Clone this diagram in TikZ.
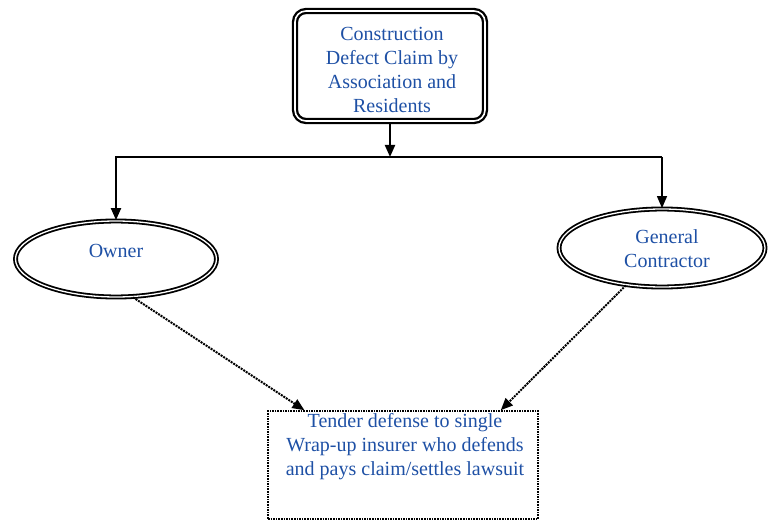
\documentclass[tikz,border=0pt]{standalone}
\usepackage{fontspec}
\setmainfont{Liberation Serif}
\usetikzlibrary{arrows.meta,calc,shapes.geometric}
\definecolor{labelblue}{RGB}{30,80,165}
\begin{document}
\begin{tikzpicture}[x=1pt,y=-1pt,
  lbl/.style={text=labelblue, font=\fontsize{20}{24}\selectfont, align=center, inner sep=0pt},
  claimbox/.style={draw, rounded corners=11pt, line width=2.3pt, double distance=1.6pt,
    minimum width=190pt, minimum height=110pt},
  party/.style={draw, ellipse, line width=1.8pt, double distance=1.3pt, inner sep=0pt},
  tenderbox/.style={draw, line width=1.6pt, dash pattern=on 1.6pt off 1pt,
    minimum width=270pt, minimum height=108pt},
  feed/.style={-{Triangle[length=12pt,width=10pt]}, line width=2pt},
  tender arrow/.style={-{Triangle[length=12pt,width=10pt]}, line width=2pt,
    dash pattern=on 2pt off 1pt}
]
\useasboundingbox (0,0) rectangle (773,521);

% claim box
\node[claimbox] (claim) at (390,66) {};
\node[lbl] (claimtext) at (392,70) {Construction\\Defect Claim by\\Association and\\Residents};

% parties
\node[party, minimum width=201pt, minimum height=76pt] (owner) at (116,259) {};
\node[lbl] (ownertext) at (116,251) {Owner};
\node[party, minimum width=206pt, minimum height=78pt] (gc) at (662,248) {};
\node[lbl] (gctext) at (667,249) {General\\Contractor};

% tender box
\node[tenderbox] (tender) at (403,465) {};
\node[lbl] (tendertext) at (405,447) {Tender defense to single\\Wrap-up insurer who defends\\and pays claim/settles lawsuit};

% distribution bus
\coordinate (busy) at (0,157);
\coordinate (bus) at (claim.south |- busy);
\coordinate (busright) at (gc.north |- busy);
\draw[feed] (claim.south) -- (bus);
\draw[feed] (bus) -| (owner.north);
\draw[line width=2pt] (bus) -- (busright);
\draw[feed, line width=1.3pt] (busright) -- (gc.north);

% tender arrows
\draw[tender arrow] (owner.-66) -- ($(tender.north west)!0.137!(tender.north east)$);
\draw[tender arrow] (gc.-134) -- ($(tender.north west)!0.86!(tender.north east)$);
\end{tikzpicture}
\end{document}
